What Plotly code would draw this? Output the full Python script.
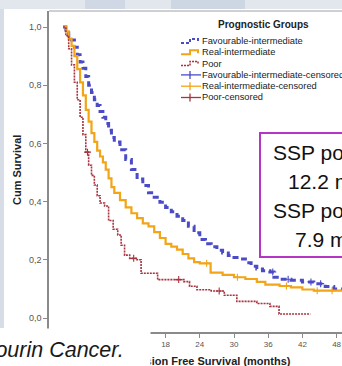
import plotly.graph_objects as go

W, H = 342, 366
L, R, T, B = 49, 342, 11, 332  # plot area in pixels

# ---------------- data ----------------
fav_t = [0, 0.5, 1, 1.5, 2, 2.5, 3, 3.5, 4, 4.5, 5, 5.5, 6, 6.5, 7, 7.5, 8, 8.5, 9,
         10, 11, 12, 13, 14, 15, 16, 17, 18, 19, 20, 21, 22, 23, 24, 25, 26, 27, 28, 29,
         30, 31, 32, 33, 34, 35, 36.3, 37, 38, 40, 42, 44, 46, 47.5, 49]
fav_s = [1.0, 0.99, 0.97, 0.955, 0.93, 0.905, 0.88, 0.858, 0.83, 0.80, 0.775, 0.75, 0.73,
         0.71, 0.69, 0.668, 0.645, 0.62, 0.605,
         0.578, 0.545, 0.51, 0.478, 0.455, 0.43, 0.415, 0.398, 0.38, 0.365, 0.35, 0.335,
         0.315, 0.293, 0.27, 0.255, 0.245, 0.233, 0.223, 0.215, 0.208, 0.203, 0.19, 0.178,
         0.168, 0.162, 0.158, 0.14, 0.133, 0.13, 0.124, 0.118, 0.108, 0.10, 0.096]

real_t = [0, 0.5, 1, 1.5, 2, 2.5, 3, 3.5, 4, 4.5, 5, 5.5, 6, 6.5, 7, 7.5, 8, 8.5, 9,
          10, 11, 12, 13, 14, 15, 16, 17, 18, 19, 20, 21, 22, 23, 24,
          25.9, 28, 30, 32, 34, 35.5, 38, 40, 42, 44, 49]
real_s = [1.0, 0.985, 0.96, 0.935, 0.90, 0.855, 0.81, 0.765, 0.715, 0.675, 0.635, 0.605,
          0.575, 0.555, 0.535, 0.51, 0.48, 0.45, 0.43,
          0.405, 0.38, 0.36, 0.343, 0.325, 0.315, 0.295, 0.275, 0.255, 0.245, 0.235, 0.22,
          0.205, 0.192, 0.188,
          0.156, 0.148, 0.14, 0.134, 0.124, 0.115, 0.11, 0.105, 0.098, 0.094, 0.092]

poor_t = [0, 0.5, 1, 1.5, 2, 2.5, 3, 3.5, 4, 4.5, 5, 5.5, 6, 6.5,
          7.3, 8, 8.8, 9.6, 10.2, 10.8, 11.7, 12.8, 13.7, 16.6,
          21.2, 22.2, 23.5, 26, 28.3, 30.5, 34, 36.3, 37.9, 43.4]
poor_s = [1.0, 0.97, 0.925, 0.87, 0.81, 0.75, 0.69, 0.63, 0.57, 0.525, 0.49, 0.457, 0.42, 0.395,
          0.385, 0.335, 0.305, 0.285, 0.25, 0.216, 0.205, 0.2, 0.154, 0.132,
          0.125, 0.109, 0.097, 0.093, 0.078, 0.057, 0.05, 0.04, 0.014, 0.014]

fav_cens_t = [36.8, 39.5, 43.5, 45.2]
real_cens_t = [25.2, 30.6, 39.2, 44.6, 47.2]
poor_cens_t = [4.3, 12.4, 20.3, 27.4]

group_names = ["Favourable-intermediate", "Real-intermediate", "Poor",
               "Favourable-intermediate-censored", "Real-intermediate-censored", "Poor-censored"]
legend_title = "Prognostic Groups"

# ticks at 0, 6 and 12 are hidden behind the caption box in the reference
x_ticks = [0, 6, 12, 18, 24, 30, 36, 42, 48]
x_ticktext = ["", "", "", "18", "24", "30", "36", "42", "48"]
y_ticks = [0.0, 0.2, 0.4, 0.6, 0.8, 1.0]
y_ticktext = ["0,0", "0,2", "0,4", "0,6", "0,8", "1,0"]

x_title = "Progression Free Survival (months)"
y_title = "Cum Survival"
box_lines = ["SSP pobre-intermedio:", "12.2 meses", "SSP pobre:", "7.9 meses"]
caption = "Clin Genitourin Cancer."

# ---------------- styles ----------------
BLUE = "#4b4bc8"
ORANGE = "#f2a516"
RED = "#a8323e"
AX = "#8a8a8a"


def step_value(ts, ss, t):
    v = ss[0]
    for ti, si in zip(ts, ss):
        if ti <= t:
            v = si
    return v


def px(x):
    return (x - L) / (R - L)


def py(y):
    return (B - y) / (B - T)


fig = go.Figure()

fig.add_trace(go.Scatter(x=fav_t, y=fav_s, mode="lines", line_shape="hv",
                         line=dict(color=BLUE, width=3, dash="6px,4px"),
                         name=group_names[0], showlegend=False))
fig.add_trace(go.Scatter(x=real_t, y=real_s, mode="lines", line_shape="hv",
                         line=dict(color=ORANGE, width=2.2),
                         name=group_names[1], showlegend=False))
fig.add_trace(go.Scatter(x=poor_t, y=poor_s, mode="lines", line_shape="hv",
                         line=dict(color=RED, width=1.6, dash="2px,1px"),
                         name=group_names[2], showlegend=False))

for ts, ss, ct, col, nm in [(fav_t, fav_s, fav_cens_t, BLUE, group_names[3]),
                            (real_t, real_s, real_cens_t, ORANGE, group_names[4]),
                            (poor_t, poor_s, poor_cens_t, RED, group_names[5])]:
    fig.add_trace(go.Scatter(x=ct, y=[step_value(ts, ss, t) for t in ct], mode="markers",
                             marker=dict(symbol="cross-thin", size=5,
                                         line=dict(color=col, width=1.1)),
                             name=nm, showlegend=False))

x0 = (L - 63) / 5.7
x1 = (R - 63) / 5.7
y0 = (318 - B) / 291
y1 = (318 - T) / 291

fig.update_layout(
    width=W, height=H,
    margin=dict(l=L, r=W - R, t=T, b=H - B),
    paper_bgcolor="white", plot_bgcolor="white",
    showlegend=False,
    font=dict(family="Liberation Sans, Arial, sans-serif"),
    xaxis=dict(range=[x0, x1], tickvals=x_ticks, ticktext=x_ticktext, ticks="outside",
               ticklen=4, tickcolor=AX, showline=True, linecolor=AX, linewidth=1.5,
               showgrid=False, zeroline=False, tickfont=dict(size=8, color="#555")),
    yaxis=dict(range=[y0, y1], tickvals=y_ticks, ticktext=y_ticktext, ticks="outside",
               ticklen=4, tickcolor=AX, showline=True, linecolor=AX, linewidth=1.5,
               showgrid=False, zeroline=False, tickfont=dict(size=9, color="#555")),
)

shapes = []
# slide background strips
shapes.append(dict(type="rect", xref="paper", yref="paper", x0=px(0), x1=px(W), y0=py(9), y1=py(0),
                   fillcolor="#e2e7ee", line_width=0, layer="above"))
shapes.append(dict(type="rect", xref="paper", yref="paper", x0=px(85), x1=px(125), y0=py(9), y1=py(0),
                   fillcolor="#cfd8e4", line_width=0, layer="above"))
shapes.append(dict(type="rect", xref="paper", yref="paper", x0=px(171), x1=px(245), y0=py(9), y1=py(0),
                   fillcolor="#cdd6e3", line_width=0, layer="above"))
shapes.append(dict(type="rect", xref="paper", yref="paper", x0=px(0), x1=px(4), y0=py(328), y1=py(9),
                   fillcolor="#d6dde7", line_width=0, layer="above"))
# top frame line
shapes.append(dict(type="line", xref="paper", yref="paper", x0=px(L), x1=px(R), y0=py(T), y1=py(T),
                   line=dict(color="#a0a0a0", width=1), layer="above"))

# legend glyphs
rows = [41, 52.3, 63.6, 74.9, 86.2, 97.5]
lx0, lx1 = 181, 201
line_styles = [(BLUE, 2, "3px,2px"), (ORANGE, 2, "solid"), (RED, 1.5, "2px,1px")]
for i, (col, wdt, dsh) in enumerate(line_styles):
    y = rows[i]
    path = "M{},{} L{},{} L{},{} L{},{} L{},{}".format(
        px(181), py(y + 2), px(190), py(y + 2), px(190), py(y - 2), px(198), py(y - 2), px(198), py(y + 1))
    shapes.append(dict(type="path", xref="paper", yref="paper", path=path,
                       line=dict(color=col, width=wdt, dash=dsh), layer="above"))
for i, col in enumerate([BLUE, ORANGE, RED]):
    y = rows[3 + i]
    shapes.append(dict(type="line", xref="paper", yref="paper", x0=px(lx0), x1=px(lx1), y0=py(y), y1=py(y),
                       line=dict(color=col, width=1.3), layer="above"))
    shapes.append(dict(type="line", xref="paper", yref="paper", x0=px(190), x1=px(190), y0=py(y - 4), y1=py(y + 4),
                       line=dict(color=col, width=1.3), layer="above"))

# purple box
shapes.append(dict(type="rect", xref="paper", yref="paper", x0=px(260), x1=px(380), y0=py(257), y1=py(133),
                   fillcolor="white", line=dict(color="#b535c4", width=2), layer="above"))

fig.update_layout(shapes=shapes)

ann = []
ann.append(dict(text="<b>" + x_title + "</b>", xref="paper", yref="paper", x=px(293), y=py(361),
                xanchor="right", yanchor="middle", showarrow=False, font=dict(size=11, color="#222")))
# white caption box covering the lower-left of the chart
ann.append(dict(text="&nbsp;", xref="paper", yref="paper", x=px(151), y=py(328), xanchor="right", yanchor="top",
                width=170, height=40, bgcolor="white", borderpad=0, showarrow=False))
ann.append(dict(text="<i>" + caption + "</i>", xref="paper", yref="paper", x=px(126), y=py(350),
                xanchor="right", yanchor="middle", showarrow=False, font=dict(size=21.5, color="#1a1a1a")))
ann.append(dict(text="<b>" + y_title + "</b>", xref="paper", yref="paper", x=px(17), y=py(170),
                xanchor="center", yanchor="middle", textangle=-90, showarrow=False,
                font=dict(size=11, color="#222")))
ann.append(dict(text="<b>" + legend_title + "</b>", xref="paper", yref="paper", x=px(263), y=py(24),
                xanchor="center", yanchor="middle", showarrow=False, font=dict(size=10, color="#222")))
for i, nm in enumerate(group_names):
    ann.append(dict(text=nm, xref="paper", yref="paper", x=px(201), y=py(rows[i]),
                    xanchor="left", yanchor="middle", showarrow=False, borderpad=0,
                    font=dict(size=9.3, color="#222")))
box_x = [272, 287, 272, 294]
box_y = [152, 181, 210, 239]
for txt, bx, by in zip(box_lines, box_x, box_y):
    ann.append(dict(text=txt, xref="paper", yref="paper", x=px(bx), y=py(by), xanchor="left",
                    yanchor="middle", showarrow=False, borderpad=0,
                    font=dict(size=21, color="#111")))
fig.update_layout(annotations=ann)

fig.write_html("out.html", config={"displayModeBar": False},
               post_script="document.body.style.margin='0px';document.body.style.padding='0px';")
